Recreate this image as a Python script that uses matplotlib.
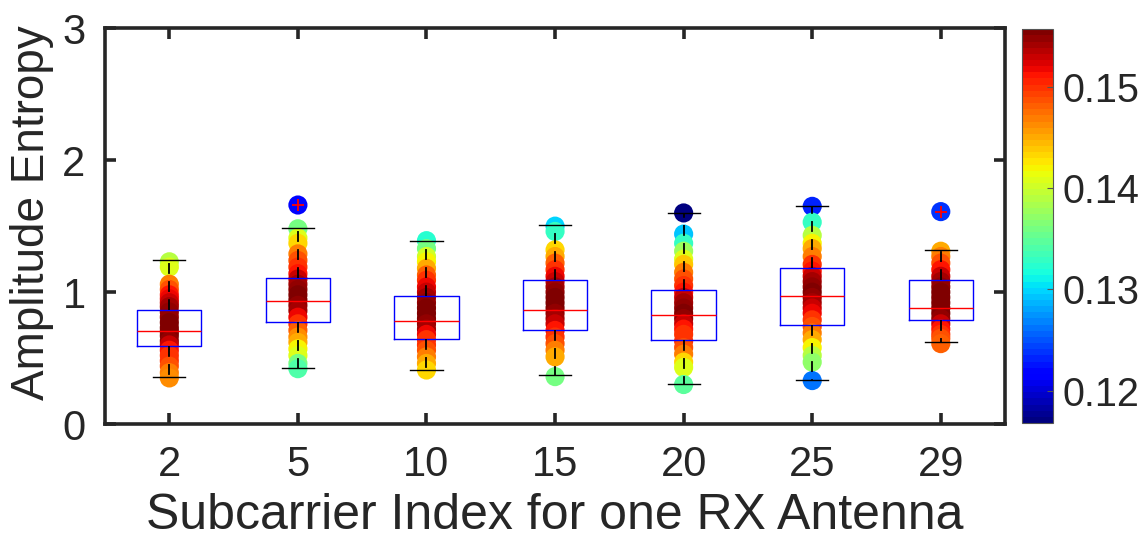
import matplotlib
matplotlib.use('Agg')
import matplotlib.pyplot as plt
import numpy as np

plt.rcParams['font.family'] = ['Liberation Sans', 'DejaVu Sans']

# Subcarrier groups shown on the x axis
subcarriers = ['2', '5', '10', '15', '20', '25', '29']

# Amplitude entropy samples (y) and their colour value (c) per subcarrier
y_sc2 = [1.23, 1.19, 1.06, 1.02, 0.98, 0.95, 0.92, 0.89, 0.85, 0.81, 0.77, 0.73,
         0.70, 0.67, 0.63, 0.60, 0.56, 0.52, 0.48, 0.44, 0.39, 0.35]
c_sc2 = [0.139, 0.141, 0.147, 0.149, 0.151, 0.152, 0.153, 0.154, 0.155, 0.155, 0.1555, 0.1555,
         0.1556, 0.1555, 0.155, 0.153, 0.151, 0.150, 0.150, 0.149, 0.147, 0.146]

y_sc5 = [1.66, 1.48, 1.41, 1.37, 1.29, 1.24, 1.19, 1.14, 1.10, 1.06, 1.02, 0.98,
         0.94, 0.90, 0.86, 0.81, 0.76, 0.71, 0.66, 0.62, 0.57, 0.52, 0.46, 0.42]
c_sc5 = [0.122, 0.136, 0.141, 0.143, 0.147, 0.149, 0.150, 0.151, 0.153, 0.154, 0.155, 0.1555,
         0.1556, 0.155, 0.154, 0.152, 0.150, 0.148, 0.146, 0.145, 0.142, 0.141, 0.136, 0.134]

y_sc10 = [1.39, 1.33, 1.27, 1.23, 1.18, 1.13, 1.09, 1.04, 1.00, 0.96, 0.92, 0.88,
          0.84, 0.80, 0.76, 0.72, 0.68, 0.64, 0.60, 0.56, 0.51, 0.46, 0.41]
c_sc10 = [0.132, 0.136, 0.140, 0.142, 0.145, 0.148, 0.150, 0.152, 0.153, 0.154, 0.155, 0.1556,
          0.1556, 0.1555, 0.155, 0.154, 0.152, 0.150, 0.150, 0.149, 0.147, 0.145, 0.143]

y_sc15 = [1.50, 1.46, 1.32, 1.27, 1.22, 1.17, 1.12, 1.08, 1.04, 1.00, 0.96, 0.92,
          0.88, 0.84, 0.80, 0.76, 0.71, 0.66, 0.61, 0.56, 0.51, 0.36]
c_sc15 = [0.130, 0.133, 0.143, 0.145, 0.148, 0.150, 0.152, 0.153, 0.154, 0.155, 0.1556, 0.1556,
          0.1555, 0.155, 0.154, 0.153, 0.151, 0.150, 0.149, 0.147, 0.145, 0.136]

y_sc20 = [1.60, 1.44, 1.37, 1.31, 1.25, 1.21, 1.15, 1.10, 1.05, 1.00, 0.96, 0.92,
          0.88, 0.84, 0.80, 0.76, 0.72, 0.68, 0.63, 0.58, 0.53, 0.47, 0.43, 0.30]
c_sc20 = [0.117, 0.129, 0.133, 0.138, 0.141, 0.144, 0.147, 0.149, 0.150, 0.151, 0.153, 0.154,
          0.155, 0.1556, 0.155, 0.153, 0.151, 0.150, 0.150, 0.149, 0.147, 0.143, 0.141, 0.135]

y_sc25 = [1.65, 1.53, 1.43, 1.37, 1.33, 1.27, 1.21, 1.16, 1.12, 1.08, 1.04, 1.00,
          0.96, 0.92, 0.88, 0.84, 0.79, 0.74, 0.69, 0.64, 0.58, 0.52, 0.47, 0.33]
c_sc25 = [0.123, 0.133, 0.139, 0.142, 0.145, 0.147, 0.150, 0.151, 0.153, 0.154, 0.155, 0.1555,
          0.155, 0.154, 0.153, 0.152, 0.150, 0.149, 0.147, 0.145, 0.142, 0.139, 0.137, 0.126]

y_sc29 = [1.61, 1.31, 1.27, 1.22, 1.17, 1.12, 1.08, 1.04, 1.00, 0.96, 0.92, 0.88,
          0.84, 0.80, 0.76, 0.72, 0.68, 0.65, 0.61]
c_sc29 = [0.124, 0.145, 0.147, 0.149, 0.151, 0.153, 0.154, 0.155, 0.1556, 0.1556, 0.1557, 0.1557,
          0.1556, 0.155, 0.153, 0.151, 0.150, 0.149, 0.148]

# Box statistics
q1 = [0.594, 0.774, 0.644, 0.712, 0.634, 0.752, 0.787]
med = [0.707, 0.932, 0.780, 0.862, 0.830, 0.967, 0.877]
q3 = [0.867, 1.110, 0.970, 1.095, 1.017, 1.183, 1.093]
whislo = [0.356, 0.426, 0.413, 0.373, 0.303, 0.333, 0.622]
whishi = [1.243, 1.483, 1.389, 1.506, 1.596, 1.649, 1.316]
fliers = [[], [1.66], [], [], [], [], [1.607]]

ys = [y_sc2, y_sc5, y_sc10, y_sc15, y_sc20, y_sc25, y_sc29]
cs = [c_sc2, c_sc5, c_sc10, c_sc15, c_sc20, c_sc25, c_sc29]

cmin, cmax = 0.1168, 0.1557
cmap = plt.get_cmap('jet', 64)
axcol = '#262626'

fig = plt.figure(figsize=(11.48, 5.41), dpi=100)
ax = fig.add_axes([0.0915, 0.216, 0.784, 0.732])
cax = fig.add_axes([0.890, 0.218, 0.027, 0.728])

## Scatter samples
sc = None
for i in range(len(subcarriers)):
    x = np.full(len(ys[i]), i + 1)
    sc = ax.scatter(x, ys[i], c=cs[i], cmap=cmap, vmin=cmin, vmax=cmax,
                    s=190, linewidths=0, zorder=2)

## Boxes
stats = []
for i in range(len(subcarriers)):
    stats.append(dict(q1=q1[i], med=med[i], q3=q3[i], whislo=whislo[i],
                      whishi=whishi[i], fliers=fliers[i]))
ax.bxp(stats, positions=np.arange(1, len(subcarriers) + 1), widths=0.5,
       showfliers=True, patch_artist=False,
       boxprops=dict(color='#0000ff', linewidth=1.0),
       medianprops=dict(color='#ff0000', linewidth=1.0),
       whiskerprops=dict(color='black', linewidth=1.3, linestyle=(0, (6, 4))),
       capprops=dict(color='black', linewidth=1.0),
       flierprops=dict(marker='+', markeredgecolor='#ff0000', markersize=9,
                       markeredgewidth=1.3),
       capwidths=0.25, zorder=3)

ax.set_xlim(0.5, 7.5)
ax.set_ylim(0, 3)
ax.set_xticks(np.arange(1, len(subcarriers) + 1))
ax.set_xticklabels(subcarriers)
ax.set_yticks([0, 1, 2, 3])

for s in ax.spines.values():
    s.set_linewidth(2.6)
    s.set_color(axcol)
ax.tick_params(direction='in', length=8, width=2.6, color=axcol,
               top=True, right=True, labelsize=30, labelcolor=axcol)
ax.tick_params(axis='x', pad=15)
ax.tick_params(axis='y', pad=14)

ax.set_xlabel('Subcarrier Index for one RX Antenna', fontsize=36, color=axcol, labelpad=6)
ax.set_ylabel('Amplitude Entropy', fontsize=33, color=axcol)
ax.yaxis.set_label_coords(-0.057, 0.535)

## Colorbar
cb = fig.colorbar(sc, cax=cax)
cb.set_ticks([0.12, 0.13, 0.14, 0.15])
cb.set_ticklabels(['0.12', '0.13', '0.14', '0.15'])
cb.outline.set_linewidth(0.8)
cb.outline.set_edgecolor('#555555')
cax.tick_params(direction='in', length=4, width=0.8, color='#555555',
                labelsize=28.5, labelcolor=axcol, pad=7)

plt.savefig('out.png', dpi=100)
